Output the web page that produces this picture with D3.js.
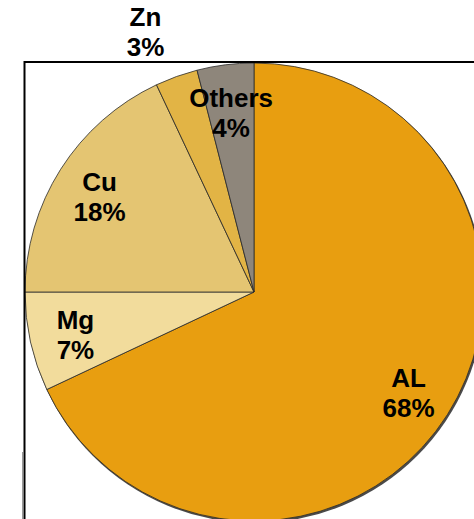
<!DOCTYPE html>
<html lang="en">
<head>
    <meta charset="UTF-8">
    <title>Alloy composition pie</title>
    <style>
        body {
            margin: 0;
            padding: 0;
            background: #ffffff;
            overflow: hidden;
        }
        .label {
            font-family: "Liberation Sans", Arial, sans-serif;
            font-weight: bold;
            font-size: 26px;
            fill: #000000;
        }
    </style>
</head>
<body>
    <div id="chart"></div>

    <script src="https://d3js.org/d3.v7.min.js"></script>
    <script>
        const width = 474;
        const height = 519;

        // Data (clockwise from 12 o'clock)
        const categories = ["AL", "Mg", "Cu", "Zn", "Others"];
        const shares = [68, 7, 18, 3, 4];
        const colors = ["#E89E10", "#F2DC9C", "#E4C572", "#E2B445", "#8E867B"];

        const cx = 254, cy = 292, radius = 229;

        const svg = d3.select("#chart").append("svg")
            .attr("width", width)
            .attr("height", height);

        const slices = categories.map((c, i) => ({name: c, value: shares[i], color: colors[i]}));

        const pie = d3.pie()
            .value(d => d.value)
            .sort(null);

        const arc = d3.arc()
            .innerRadius(0)
            .outerRadius(radius);

        const arcs = pie(slices);

        const g = svg.append("g")
            .attr("transform", `translate(${cx},${cy})`);

        // soft dark rim, like the original's edge shading
        g.append("circle")
            .attr("cx", 1)
            .attr("cy", 1.5)
            .attr("r", radius + 0.5)
            .attr("fill", "#4a4a4a");

        g.selectAll("path.slice")
            .data(arcs)
            .enter().append("path")
            .attr("class", "slice")
            .attr("d", arc)
            .attr("fill", d => d.data.color)
            .attr("stroke", "#2b2b2b")
            .attr("stroke-width", 0.8);

        // labels: small slices sit outside the pie
        const isOutside = d => d.data.value <= 3;
        const labelPos = d => {
            const r = isOutside(d) ? 279 : 183;
            const [x, y] = d3.arc().innerRadius(r).outerRadius(r).centroid(d);
            return isOutside(d) ? [x - 14, y] : [x, y];
        };

        const labels = g.selectAll("text.label")
            .data(arcs)
            .enter().append("text")
            .attr("class", "label")
            .attr("text-anchor", "middle")
            .attr("transform", d => {
                const [x, y] = labelPos(d);
                return `translate(${x},${y})`;
            });

        labels.append("tspan")
            .attr("x", 0)
            .attr("dy", "-0.12em")
            .text(d => d.data.name);

        labels.append("tspan")
            .attr("x", 0)
            .attr("dy", "1.15em")
            .text(d => d.data.value + "%");

        // plot frame (runs off the right and bottom edges)
        svg.append("line")
            .attr("x1", 24).attr("y1", 62)
            .attr("x2", width).attr("y2", 62)
            .attr("stroke", "#000")
            .attr("stroke-width", 2);

        svg.append("line")
            .attr("x1", 24.5).attr("y1", 61)
            .attr("x2", 24.5).attr("y2", height)
            .attr("stroke", "#000")
            .attr("stroke-width", 2);

        svg.append("line")
            .attr("x1", 22.5).attr("y1", 452)
            .attr("x2", 22.5).attr("y2", height)
            .attr("stroke", "#9a9a9a")
            .attr("stroke-width", 1);
    </script>
</body>
</html>
